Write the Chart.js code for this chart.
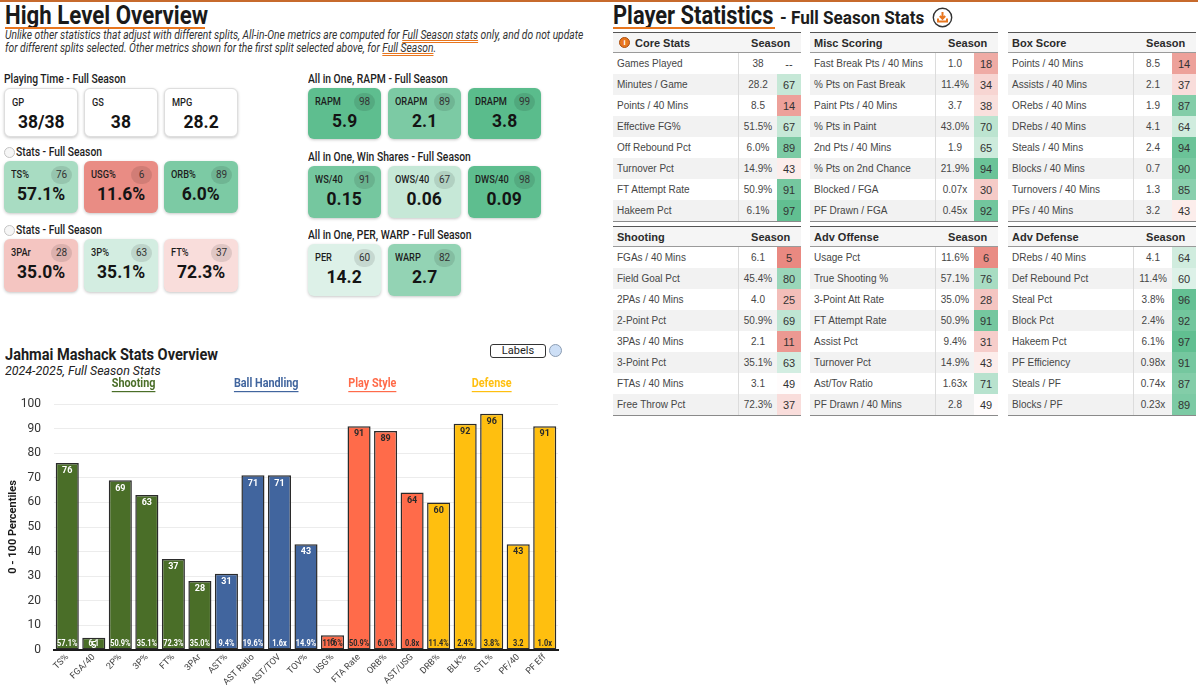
<!DOCTYPE html>
<html>
<head>
<meta charset="utf-8">
<title>Jahmai Mashack - Overview</title>
<script src="https://cdn.jsdelivr.net/npm/chart.js@4.4.1/dist/chart.umd.min.js"></script>
<style>
  html, body { margin: 0; padding: 0; }
  body { width: 1198px; height: 685px; position: relative; overflow: hidden; background: #fff; font-family: Roboto, 'Noto Sans', sans-serif; color: #1d1d1d; }
  .abs { position: absolute; white-space: nowrap; }
  .sq { display: inline-block; transform-origin: 0 50%; }
  .topline { position: absolute; top: 0; left: 0; width: 1198px; height: 2px; background: #c76a2c; }
  .h1 { font-weight: 700; font-size: 25px; line-height: 26px; color: #1a1a1a; }
  .h1u { position: absolute; height: 2px; background: #e8761e; }
  .intro { font-style: italic; font-size: 12px; line-height: 13px; color: #333; }
  .intro u { text-decoration: underline double #e8761e; text-underline-offset: 1px; }
  .sec { font-size: 12px; font-weight: 500; line-height: 14px; color: #1d1d1d; }
  .radio { position: absolute; width: 9px; height: 9px; border-radius: 50%; border: 1px solid #c4c4c4; background: #f6f6f6; }
  .card { position: absolute; border-radius: 6px; box-shadow: 0 1px 3px rgba(0,0,0,.22); box-sizing: border-box; }
  .card.plain { border: 1px solid #dedede; }
  .card .lb { position: absolute; left: 7px; top: 7px; font-size: 10.5px; line-height: 13px; font-weight: 500; transform: scaleX(.88); transform-origin: 0 50%; }
  .card .pc { position: absolute; right: 6px; top: 5px; width: 21px; height: 18px; border-radius: 9px; background: rgba(0,0,0,.1); font-size: 10px; line-height: 18px; text-align: center; color: #333; }
  .card .vl { position: absolute; left: 0; right: 0; top: 23px; text-align: center; font-weight: 700; font-size: 19px; line-height: 20px; color: #141414; }
  .card .vl span { display: inline-block; transform: scaleX(.92); }
  .tbl { position: absolute; width: 188px; font-family: 'Liberation Sans', Arial, sans-serif; font-size: 10px; color: #464646; border-bottom: 1px solid #8a8a8a; }
  .tbl .hd { height: 19px; border-top: 1.5px solid #555; border-bottom: 1px solid #9a9a9a; background: #f5f5f5; display: flex; align-items: center; font-weight: 700; font-size: 11px; color: #2b2b2b; }
  .tbl .row { height: 21px; display: flex; align-items: stretch; }
  .tbl .row.alt { background: #f2f2f2; }
  .tbl .c1 { width: 126px; padding-left: 4px; box-sizing: border-box; display: flex; align-items: center; border-right: 1px solid #dcdcdc; }
  .tbl .c2 { width: 38px; display: flex; align-items: center; justify-content: center; }
  .tbl .c3 { width: 24px; display: flex; align-items: center; justify-content: center; font-size: 11px; color: #333; }
  .chartbox { position: absolute; left: 0; top: 375px; width: 570px; height: 310px; }
</style>
</head>
<body>
<div class="topline"></div>

<!-- left panel headings -->
<div class="abs h1" style="left:5px;top:3px;"><span class="sq" style="transform:scaleX(.89)">High Level Overview</span></div>
<div class="h1u" style="left:5px;top:27px;width:200px;"></div>
<div class="abs intro" style="left:5px;top:29px;"><span class="sq" style="transform:scaleX(.855)">Unlike other statistics that adjust with different splits, All-in-One metrics are computed for <u>Full Season stats</u> only, and do not update<br>for different splits selected. Other metrics shown for the first split selected above, for <u>Full Season</u>.</span></div>

<div class="abs sec" style="left:4px;top:72px;"><span class="sq" style="transform:scaleX(.86)">Playing Time - Full Season</span></div>
<div class="radio" style="left:4px;top:147px;"></div>
<div class="abs sec" style="left:16px;top:145px;"><span class="sq" style="transform:scaleX(.86)">Stats - Full Season</span></div>
<div class="radio" style="left:4px;top:225px;"></div>
<div class="abs sec" style="left:16px;top:223px;"><span class="sq" style="transform:scaleX(.86)">Stats - Full Season</span></div>
<div class="abs sec" style="left:308px;top:72px;"><span class="sq" style="transform:scaleX(.86)">All in One, RAPM - Full Season</span></div>
<div class="abs sec" style="left:308px;top:150px;"><span class="sq" style="transform:scaleX(.86)">All in One, Win Shares - Full Season</span></div>
<div class="abs sec" style="left:308px;top:228px;"><span class="sq" style="transform:scaleX(.86)">All in One, PER, WARP - Full Season</span></div>

<!-- chart header -->
<div class="abs" style="left:5px;top:346px;font-weight:700;font-size:16px;line-height:17px;"><span class="sq" style="transform:scaleX(.91)">Jahmai Mashack Stats Overview</span></div>
<div class="abs" style="left:5px;top:363px;font-style:italic;font-size:13.5px;line-height:15px;color:#222;"><span class="sq" style="transform:scaleX(.92)">2024-2025, Full Season Stats</span></div>
<div class="abs" style="left:490px;top:344px;width:54px;height:12px;border:1.5px solid #333;border-radius:3px;font-size:11px;line-height:12px;text-align:center;">Labels</div>
<div class="abs" style="left:549px;top:344px;width:13px;height:13px;border-radius:50%;border:1px solid #8c9db3;background:#cddff6;box-sizing:border-box;"></div>
<div class="chartbox"><canvas id="overviewChart"></canvas></div>

<!-- right panel heading -->
<div class="abs h1" style="left:613px;top:3px;"><span class="sq" style="transform:scaleX(.875)">Player Statistics</span></div>
<div class="h1u" style="left:613px;top:27px;width:162px;"></div>
<div class="abs" style="left:780px;top:8px;font-weight:700;font-size:19px;line-height:20px;"><span class="sq" style="transform:scaleX(.9)">- Full Season Stats</span></div>
<svg class="abs" style="left:932px;top:7px;" width="21" height="21" viewBox="0 0 21 21">
  <circle cx="10.5" cy="10.5" r="9.2" fill="#fff" stroke="#333" stroke-width="1.4"/>
  <path d="M6 11.5 v3 h9 v-3" fill="none" stroke="#e8761e" stroke-width="2"/>
  <path d="M10.5 5 v6.5 M7.8 9 l2.7 2.8 l2.7 -2.8" fill="none" stroke="#e8761e" stroke-width="2"/>
</svg>

<script>
// Bar chart data
const barLabels = ['TS%', 'FGA/40', '2P%', '3P%', 'FT%', '3PAr', 'AST%', 'AST Ratio', 'AST/TOV', 'TOV%',
                   'USG%', 'FTA Rate', 'ORB%', 'AST/USG', 'DRB%', 'BLK%', 'STL%', 'PF/40', 'PF Eff'];
const barPercentiles = [76, 5, 69, 63, 37, 28, 31, 71, 71, 43, 6, 91, 89, 64, 60, 92, 96, 43, 91];
const barRawValues = ['57.1%', '6.1', '50.9%', '35.1%', '72.3%', '35.0%', '9.4%', '19.6%', '1.6x', '14.9%',
                      '11.6%', '50.9%', '6.0%', '0.8x', '11.4%', '2.4%', '3.8%', '3.2', '1.0x'];
const barGroup = [0, 0, 0, 0, 0, 0, 1, 1, 1, 1, 2, 2, 2, 2, 3, 3, 3, 3, 3];
const groupNames = ['Shooting', 'Ball Handling', 'Play Style', 'Defense'];
const groupColors = ['#4a6e28', '#41659e', '#ff6b4a', '#ffbf0f'];
const groupTextColors = ['#ffffff', '#ffffff', '#2a2a2a', '#2a2a2a'];
const yTickValues = [0, 10, 20, 30, 40, 50, 60, 70, 80, 90, 100];

// Cards: [label, value, percentile]
const playingTimeCards = [['GP', '38/38', null], ['GS', '38', null], ['MPG', '28.2', null]];
const statsCardsA = [['TS%', '57.1%', 76], ['USG%', '11.6%', 6], ['ORB%', '6.0%', 89]];
const statsCardsB = [['3PAr', '35.0%', 28], ['3P%', '35.1%', 63], ['FT%', '72.3%', 37]];
const rapmCards = [['RAPM', '5.9', 98], ['ORAPM', '2.1', 89], ['DRAPM', '3.8', 99]];
const winShareCards = [['WS/40', '0.15', 91], ['OWS/40', '0.06', 67], ['DWS/40', '0.09', 98]];
const perWarpCards = [['PER', '14.2', 60], ['WARP', '2.7', 82]];

// Tables: [stat, season, percentile]
const coreStatsRows = [['Games Played', '38', null], ['Minutes / Game', '28.2', 67], ['Points / 40 Mins', '8.5', 14],
  ['Effective FG%', '51.5%', 67], ['Off Rebound Pct', '6.0%', 89], ['Turnover Pct', '14.9%', 43],
  ['FT Attempt Rate', '50.9%', 91], ['Hakeem Pct', '6.1%', 97]];
const miscScoringRows = [['Fast Break Pts / 40 Mins', '1.0', 18], ['% Pts on Fast Break', '11.4%', 34],
  ['Paint Pts / 40 Mins', '3.7', 38], ['% Pts in Paint', '43.0%', 70], ['2nd Pts / 40 Mins', '1.9', 65],
  ['% Pts on 2nd Chance', '21.9%', 94], ['Blocked / FGA', '0.07x', 30], ['PF Drawn / FGA', '0.45x', 92]];
const boxScoreRows = [['Points / 40 Mins', '8.5', 14], ['Assists / 40 Mins', '2.1', 37], ['ORebs / 40 Mins', '1.9', 87],
  ['DRebs / 40 Mins', '4.1', 64], ['Steals / 40 Mins', '2.4', 94], ['Blocks / 40 Mins', '0.7', 90],
  ['Turnovers / 40 Mins', '1.3', 85], ['PFs / 40 Mins', '3.2', 43]];
const shootingRows = [['FGAs / 40 Mins', '6.1', 5], ['Field Goal Pct', '45.4%', 80], ['2PAs / 40 Mins', '4.0', 25],
  ['2-Point Pct', '50.9%', 69], ['3PAs / 40 Mins', '2.1', 11], ['3-Point Pct', '35.1%', 63],
  ['FTAs / 40 Mins', '3.1', 49], ['Free Throw Pct', '72.3%', 37]];
const advOffenseRows = [['Usage Pct', '11.6%', 6], ['True Shooting %', '57.1%', 76], ['3-Point Att Rate', '35.0%', 28],
  ['FT Attempt Rate', '50.9%', 91], ['Assist Pct', '9.4%', 31], ['Turnover Pct', '14.9%', 43],
  ['Ast/Tov Ratio', '1.63x', 71], ['PF Drawn / 40 Mins', '2.8', 49]];
const advDefenseRows = [['DRebs / 40 Mins', '4.1', 64], ['Def Rebound Pct', '11.4%', 60], ['Steal Pct', '3.8%', 96],
  ['Block Pct', '2.4%', 92], ['Hakeem Pct', '6.1%', 97], ['PF Efficiency', '0.98x', 91],
  ['Steals / PF', '0.74x', 87], ['Blocks / PF', '0.23x', 89]];

// red - white - green percentile scale
function pctColor(p) {
  if (p == null) return '#ffffff';
  const white = [255, 255, 255];
  const end = p < 50 ? [230, 124, 115] : [87, 187, 138];
  const t = Math.abs(p - 50) / 50;
  return 'rgb(' + white.map((w, i) => Math.round(w + (end[i] - w) * t)).join(',') + ')';
}

function addCards(cards, x0, y, w, h, gap) {
  cards.forEach((c, i) => {
    const d = document.createElement('div');
    d.className = 'card' + (c[2] == null ? ' plain' : '');
    d.style.cssText = `left:${x0 + i * (w + gap)}px;top:${y}px;width:${w}px;height:${h}px;background:${pctColor(c[2])}`;
    d.innerHTML = `<span class="lb">${c[0]}</span>` +
      (c[2] == null ? '' : `<span class="pc">${c[2]}</span>`) +
      `<div class="vl"><span>${c[1]}</span></div>`;
    document.body.appendChild(d);
  });
}

addCards(playingTimeCards, 4, 88, 74, 49, 6);
addCards(statsCardsA, 4, 161, 74, 52, 6);
addCards(statsCardsB, 4, 239, 74, 53, 6);
addCards(rapmCards, 308, 88, 73, 51, 7);
addCards(winShareCards, 308, 166, 73, 52, 7);
addCards(perWarpCards, 308, 244, 73, 52, 7);

function addTable(title, rows, x, y, icon) {
  const t = document.createElement('div');
  t.className = 'tbl';
  t.style.left = x + 'px';
  t.style.top = y + 'px';
  let h = '<div class="hd"><div style="width:126px;padding-left:4px;display:flex;align-items:center;">';
  if (icon) h += '<span style="display:inline-block;width:11px;height:11px;border-radius:50%;background:#e8761e;border:1px solid #a94f10;box-sizing:border-box;color:#fff;font-size:8px;line-height:9px;text-align:center;margin:0 5px 0 2px;">i</span>';
  h += title + '</div><div style="width:62px;text-align:center;">Season</div></div>';
  rows.forEach((r, i) => {
    h += `<div class="row${i % 2 ? ' alt' : ''}"><div class="c1">${r[0]}</div><div class="c2">${r[1]}</div>` +
         `<div class="c3" style="background:${r[2] == null ? 'transparent' : pctColor(r[2])}">${r[2] == null ? '--' : r[2]}</div></div>`;
  });
  t.innerHTML = h;
  document.body.appendChild(t);
}

addTable('Core Stats', coreStatsRows, 613, 32, true);
addTable('Misc Scoring', miscScoringRows, 810, 32);
addTable('Box Score', boxScoreRows, 1008, 32);
addTable('Shooting', shootingRows, 613, 226);
addTable('Adv Offense', advOffenseRows, 810, 226);
addTable('Adv Defense', advDefenseRows, 1008, 226);

// labels on bars + group headers above
const barText = {
  id: 'barText',
  afterDatasetsDraw(chart) {
    const ctx = chart.ctx;
    const meta = chart.getDatasetMeta(0);
    const base = chart.scales.y.getPixelForValue(0);
    ctx.save();
    ctx.textAlign = 'center';
    ctx.textBaseline = 'middle';
    meta.data.forEach((bar, i) => {
      ctx.fillStyle = groupTextColors[barGroup[i]];
      ctx.font = 'bold 9px Roboto';
      ctx.fillText(barPercentiles[i], bar.x, bar.y + 8);
      ctx.save();
      ctx.translate(bar.x, base - 6);
      ctx.scale(0.82, 1);
      ctx.fillText(barRawValues[i], 0, 0);
      ctx.restore();
    });
    ctx.font = 'bold 12px Roboto';
    groupNames.forEach((name, g) => {
      const xs = meta.data.filter((b, i) => barGroup[i] === g).map(b => b.x);
      const cx = xs.reduce((a, b) => a + b, 0) / xs.length;
      ctx.save();
      ctx.translate(cx, 9);
      ctx.scale(0.9, 1);
      ctx.fillStyle = groupColors[g];
      ctx.fillText(name, 0, 0);
      const w = ctx.measureText(name).width;
      ctx.fillRect(-w / 2, 7, w, 1.2);
      ctx.restore();
    });
    ctx.restore();
  }
};

new Chart(document.getElementById('overviewChart'), {
  type: 'bar',
  data: {
    labels: barLabels,
    datasets: [{
      data: barPercentiles,
      backgroundColor: barGroup.map(g => groupColors[g]),
      borderColor: '#2b2b2b',
      borderWidth: 1.5,
      borderSkipped: false,
      barPercentage: 0.87,
      categoryPercentage: 1
    }]
  },
  options: {
    responsive: true,
    maintainAspectRatio: false,
    animation: false,
    layout: { padding: { top: 29, right: 12, left: 0, bottom: 0 } },
    plugins: { legend: { display: false }, tooltip: { enabled: false } },
    scales: {
      x: {
        grid: { display: false, drawTicks: false },
        border: { display: true, color: '#1a1a1a', width: 2 },
        ticks: { autoSkip: false, maxRotation: 45, minRotation: 45, padding: 2, color: '#444', font: { family: 'Roboto', size: 9 } },
        afterFit(s) { s.height = 35; }
      },
      y: {
        min: 0, max: 100,
        afterBuildTicks(s) { s.ticks = yTickValues.map(v => ({ value: v })); },
        grid: { color: '#ececec', drawTicks: false },
        border: { display: false },
        ticks: { padding: 13, color: '#333', font: { family: 'Roboto', size: 12 } },
        title: { display: true, text: '0 - 100 Percentiles', color: '#1a1a1a', font: { family: 'Roboto', size: 11, weight: 'bold' }, padding: { top: 7, bottom: 0 } },
        afterFit(s) { s.width = 54; }
      }
    }
  },
  plugins: [barText]
});
</script>
</body>
</html>
